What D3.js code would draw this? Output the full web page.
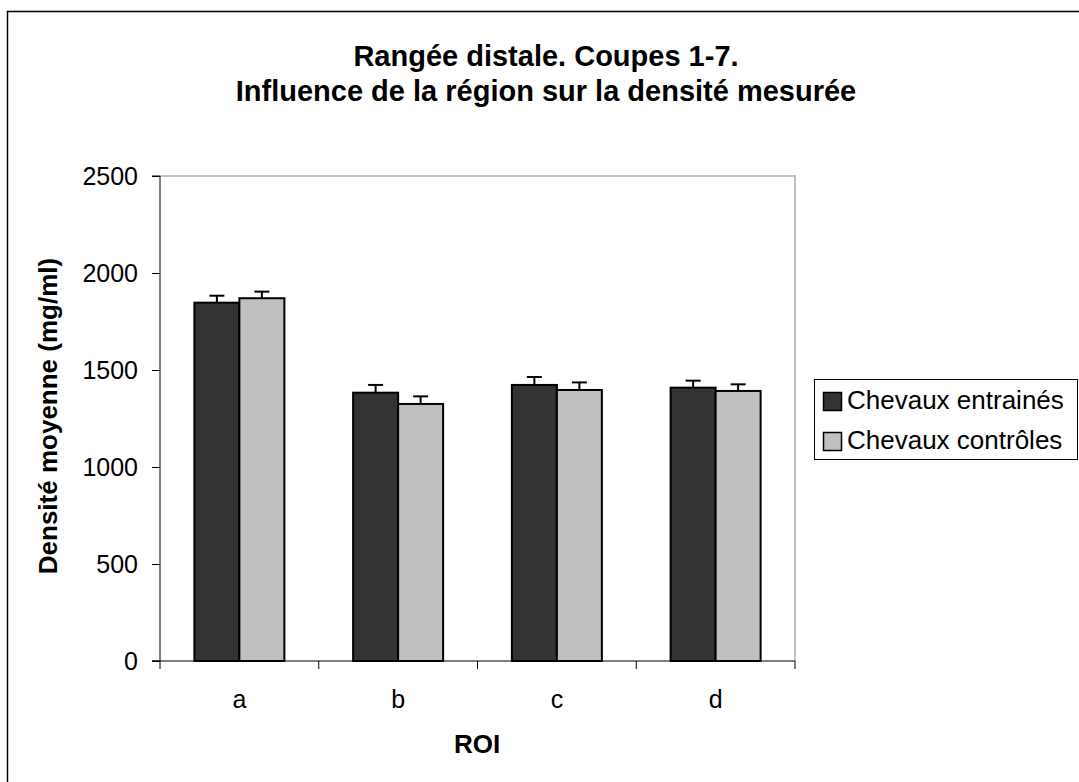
<!DOCTYPE html>
<html><head><meta charset="utf-8">
<script src="https://cdn.jsdelivr.net/npm/d3@7"></script>
<style>body{margin:0;background:#fff}svg{display:block;font-family:"Liberation Sans",Arial,sans-serif}</style>
</head><body>
<script>
const categories = ["a","b","c","d"];
const seriesNames = ["Chevaux entrainés","Chevaux contrôles"];
const entraines = [1847, 1383, 1423, 1409];
const controles = [1870, 1325, 1397, 1392];
const errEntraines = [36, 40, 41, 36];
const errControles = [34, 39, 39, 34];
const yTicks = [0, 500, 1000, 1500, 2000, 2500];
const colors = ["#333333", "#c0c0c0"];

const W = 1079, H = 782;
const FF = "Liberation Sans, Arial, sans-serif";
const svg = d3.select("body").append("svg").attr("width", W).attr("height", H);
// outer border
svg.append("rect").attr("x", 7.5).attr("y", 11.5).attr("width", W + 10).attr("height", H + 10)
  .attr("fill", "none").attr("stroke", "#000").attr("stroke-width", 1.5);

const L = 160, R = 795, T = 176, B = 661;
const x = d3.scaleBand().domain(categories).range([L, R]).paddingInner(0).paddingOuter(0);
const x1 = d3.scaleBand().domain([0,1]).range([0, 90]);
const y = d3.scaleLinear().domain([0, 2500]).range([B, T]);

// plot area border (gray top & right)
svg.append("path").attr("d", `M${L},${T}H${R}V${B}`).attr("fill","none").attr("stroke","#c0c0c0").attr("stroke-width",2);

const data = categories.map((c,i)=>({c, vals:[entraines[i], controles[i]], errs:[errEntraines[i], errControles[i]]}));
const g = svg.append("g");
data.forEach(d => {
  const cx = x(d.c) + x.bandwidth()/2 - 45;
  d.vals.forEach((v,j) => {
    const bx = cx + x1(j);
    const bw = x1.bandwidth();
    const ex = bx + bw/2;
    g.append("line").attr("x1", ex).attr("x2", ex).attr("y1", y(v)).attr("y2", y(v + d.errs[j])).attr("stroke","#000").attr("stroke-width",2);
    g.append("line").attr("x1", ex-7.5).attr("x2", ex+7.5).attr("y1", y(v + d.errs[j])).attr("y2", y(v + d.errs[j])).attr("stroke","#000").attr("stroke-width",2);
    g.append("rect").attr("x", bx).attr("y", y(v)).attr("width", bw).attr("height", B - y(v))
      .attr("fill", colors[j]).attr("stroke","#000").attr("stroke-width",2);
  });
});

// y axis
const yAxis = d3.axisLeft(y).tickValues(yTicks).tickSize(8).tickPadding(14).tickFormat(d3.format("d"));
const ya = svg.append("g").attr("transform", `translate(${L},0)`).call(yAxis);
ya.attr("font-family", FF).attr("font-size", 25);
ya.select(".domain").attr("d", `M-8,${T}H0V${B}H-8`).attr("stroke","#000");
ya.selectAll("text").attr("fill","#000");
ya.selectAll("line").attr("stroke","#000");

// x axis
const xa = svg.append("g").attr("transform", `translate(0,${B})`);
xa.append("line").attr("x1", L-8).attr("x2", R).attr("y1",0).attr("y2",0).attr("stroke","#000");
const xTickPos = [L].concat(categories.map(c => x(c) + x.bandwidth()));
xTickPos.forEach(p => xa.append("line").attr("x1",p).attr("x2",p).attr("y1",0).attr("y2",8).attr("stroke","#000"));
categories.forEach(c => xa.append("text").attr("x", x(c)+x.bandwidth()/2).attr("y", 47).attr("text-anchor","middle")
  .attr("font-size",25).text(c));

// titles
svg.append("text").attr("x", 546).attr("y", 66).attr("text-anchor","middle").attr("font-size",29).attr("font-weight","bold").text("Rangée distale. Coupes 1-7.");
svg.append("text").attr("x", 546).attr("y", 101).attr("text-anchor","middle").attr("font-size",29).attr("font-weight","bold").text("Influence de la région sur la densité mesurée");
svg.append("text").attr("x", 477).attr("y", 753).attr("text-anchor","middle").attr("font-size",26).attr("font-weight","bold").text("ROI");
svg.append("text").attr("transform", `translate(57,416) rotate(-90)`).attr("text-anchor","middle").attr("font-size",26).attr("font-weight","bold").text("Densité moyenne (mg/ml)");

// legend
const lg = svg.append("g");
lg.append("rect").attr("x", 814.5).attr("y", 379.5).attr("width", 263).attr("height", 80).attr("fill","#fff").attr("stroke","#000").attr("stroke-width",1);
seriesNames.forEach((n,i) => {
  const yy = 401 + i*40;
  lg.append("rect").attr("x", 823.5).attr("y", yy-8.5).attr("width", 18).attr("height", 18).attr("fill", colors[i]).attr("stroke","#000").attr("stroke-width",1.5);
  lg.append("text").attr("x", 847).attr("y", yy+8).attr("font-size",26).text(n);
});
</script>
</body></html>
